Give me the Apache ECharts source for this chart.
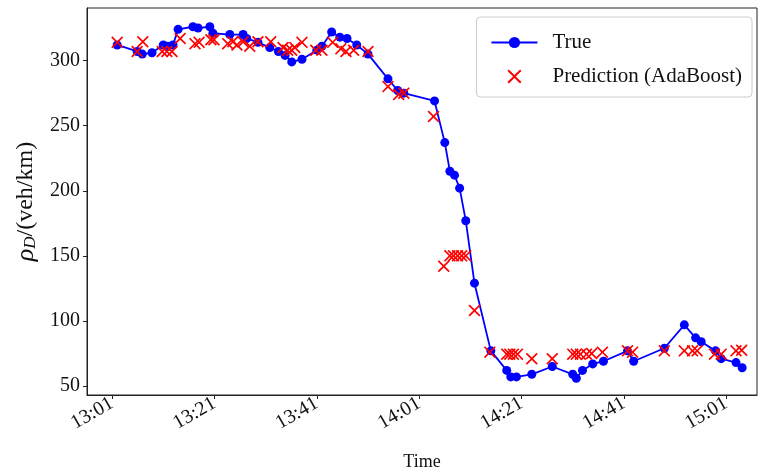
<!DOCTYPE html>
<html>
<head>
<meta charset="utf-8">
<script src="https://cdn.jsdelivr.net/npm/echarts@6.0.0/dist/echarts.min.js"></script>
<style>
html, body { margin: 0; padding: 0; background: #fff; }
#main { width: 762px; height: 476px; }
</style>
</head>
<body>
<div id="main"></div>
<script>
// time in minutes after 13:00
var trueTime = [2.0, 5.9, 6.9, 8.8, 11, 11.9, 12.9, 13.9, 16.8, 17.8, 20.1, 20.7, 24, 26.6, 27.3, 29.5,
	31.8, 33.5, 34.8, 36.1, 38.1, 41, 42, 43.9, 45.5, 46.9, 48.8, 51, 54.9, 56.8, 58, 64,
	66, 67, 67.9, 68.9, 70.1, 71.8, 75, 78.1, 78.9, 80, 83, 87, 91, 91.7, 92.9, 94.9,
	97, 101.7, 102.9, 108.9, 112.8, 115, 116.1, 118.9, 120, 122.9, 124.1];
var trueValue = [312, 307, 305, 306, 312, 311, 312, 324, 326, 325, 326, 321, 320, 320, 317, 314,
	310, 307, 304, 299, 301, 308, 311, 322, 318, 317, 312, 305, 286, 277, 275, 269,
	237, 215, 212, 202, 177, 129, 77, 62, 57, 57, 59, 65, 59, 56, 62, 67,
	69, 77, 69, 79, 97, 87, 84, 77, 71, 68, 64];

var predTime = [2.0, 5.9, 7.0, 10.8, 11.7, 12.7, 14.3, 17.2, 18.0, 20.3, 20.9, 23.6, 24.6, 25.4, 26.6, 27.9,
	29.5, 32.0, 34.4, 35.3, 36.1, 36.7, 38.1, 40.8, 42.0, 44.1, 45.7, 46.7, 48.2, 51.0, 54.9, 57.0,
	58.0, 63.8, 65.8, 67.0, 67.7, 68.5, 69.3, 70.1, 71.8, 74.8, 78.1, 78.7, 79.4, 80.2, 83.0, 87.0,
	91.0, 91.7, 92.5, 93.7, 94.7, 96.8, 101.7, 102.7, 108.9, 112.8, 114.4, 115.3, 118.7, 120.0, 122.9, 124.0];
var predValue = [314, 307, 314.5, 307, 307, 307, 317, 313, 314, 316, 316, 313, 314.5, 312, 314.5, 311,
	314.5, 314.5, 310, 308, 308, 310, 314, 308, 308, 314, 309, 307, 308, 307, 280, 274,
	275, 257, 142, 150, 150, 150, 150, 150, 108, 76, 74.5, 74.5, 74.5, 74.5, 71, 71,
	74.5, 74.5, 74.5, 74.5, 75, 76, 77, 76, 77, 77, 77, 77, 74.5, 74.5, 77, 77.5];

var tickLabels = ['13:01', '13:21', '13:41', '14:01', '14:21', '14:41', '15:01'];
var yTicks = [50, 100, 150, 200, 250, 300];

var toMin = function(s) {
	var p = s.split(':');
	return (parseInt(p[0], 10) - 13) * 60 + parseInt(p[1], 10);
};
var xTicks = tickLabels.map(toMin);

var pair = function(xs, ys) {
	return xs.map(function(x, i) { return [x, ys[i]]; });
};

var font = '"Liberation Serif", "DejaVu Serif", serif';
var cross = 'path://M0,1L1,0L5,4L9,0L10,1L6,5L10,9L9,10L5,6L1,10L0,9L4,5Z';

var myChart = echarts.init(document.getElementById('main'), null, { renderer: 'canvas' });

var option = {
	animation: false,
	backgroundColor: '#fff',
	textStyle: { fontFamily: font },
	grid: {
		left: 87, right: 5, top: 8, bottom: 78,
		show: true, borderColor: '#222', borderWidth: 1
	},
	legend: {
		orient: 'vertical',
		right: 10, top: 17,
		padding: [15, 10, 10, 14],
		itemGap: 13,
		itemWidth: 46, itemHeight: 14,
		borderColor: '#ccc', borderWidth: 1, borderRadius: 4,
		backgroundColor: '#fff',
		textStyle: { fontFamily: font, fontSize: 21, color: '#111', padding: [0, 0, 0, 10] },
		data: ['True', 'Prediction (AdaBoost)']
	},
	xAxis: {
		type: 'value',
		min: -3.9, max: 127,
		name: 'Time',
		nameLocation: 'middle',
		nameGap: 58,
		nameTextStyle: { fontFamily: font, fontSize: 18, color: '#111' },
		axisLine: { show: true, onZero: false, lineStyle: { color: '#222' } },
		axisTick: { show: true, length: 4, customValues: xTicks, lineStyle: { color: '#222' } },
		axisLabel: {
			customValues: xTicks,
			rotate: 30,
			margin: 7,
			fontFamily: font, fontSize: 20, color: '#111',
			formatter: function(v) { return tickLabels[xTicks.indexOf(v)] || ''; }
		},
		splitLine: { show: false }
	},
	yAxis: {
		type: 'value',
		min: 43.1, max: 340.4,
		name: '{r|ρ}{s|D}{n|/(veh/km)}',
		nameLocation: 'middle',
		nameRotate: 90,
		nameGap: 44,
		nameTextStyle: {
			fontFamily: font, fontSize: 22, color: '#111',
			rich: {
				r: { fontFamily: font, fontSize: 26, fontStyle: 'italic', color: '#111', lineHeight: 26 },
				s: { fontFamily: font, fontSize: 17, fontStyle: 'italic', color: '#111', lineHeight: 26, verticalAlign: 'bottom', padding: [8, 0, 0, 0] },
				n: { fontFamily: font, fontSize: 24, color: '#111', lineHeight: 26 }
			}
		},
		axisLine: { show: true, onZero: false, lineStyle: { color: '#222' } },
		axisTick: { show: true, length: 4, customValues: yTicks, lineStyle: { color: '#222' } },
		axisLabel: {
			customValues: yTicks,
			margin: 7,
			fontFamily: font, fontSize: 20, color: '#111'
		},
		splitLine: { show: false }
	},
	series: [{
		name: 'True',
		type: 'line',
		data: pair(trueTime, trueValue),
		symbol: 'circle',
		symbolSize: 9,
		showAllSymbol: true,
		lineStyle: { color: '#0000ff', width: 1.8 },
		itemStyle: { color: '#0000ff' },
		z: 2
	}, {
		name: 'Prediction (AdaBoost)',
		type: 'scatter',
		data: pair(predTime, predValue),
		symbol: cross,
		symbolSize: 12,
		itemStyle: { color: '#ff0000', opacity: 1 },
		z: 3
	}]
};

myChart.setOption(option);
</script>
</body>
</html>
